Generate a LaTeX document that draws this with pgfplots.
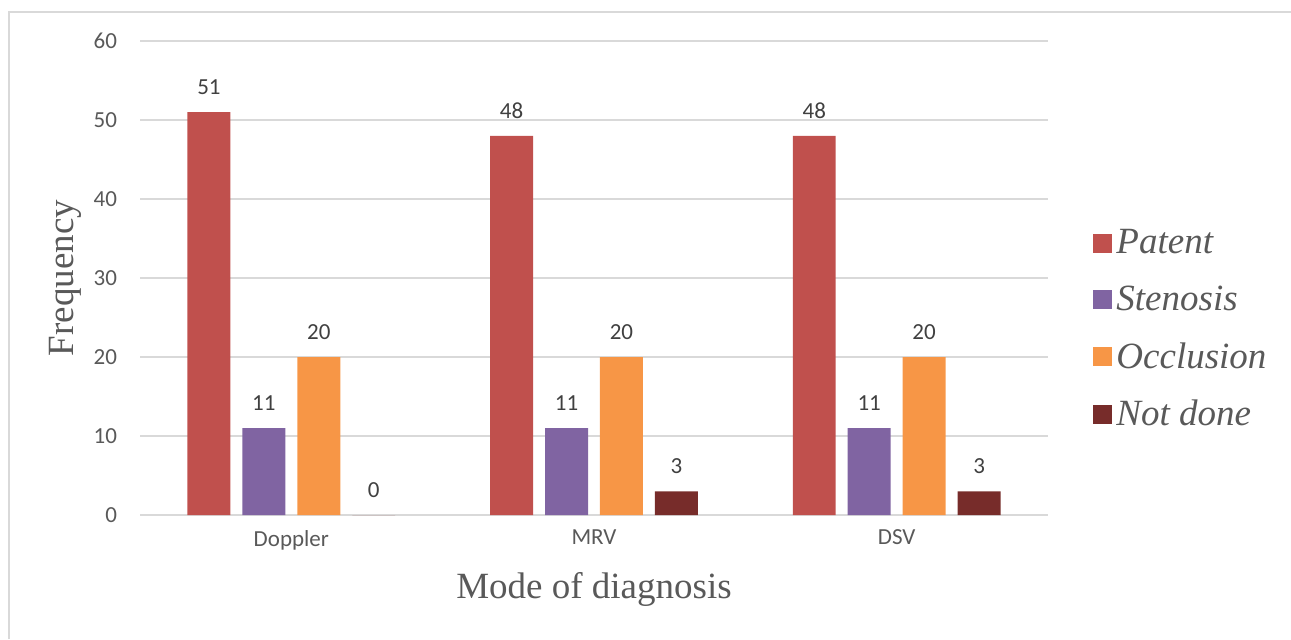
\documentclass[border=0pt]{standalone}
\usepackage{fontspec}
\setmainfont{Liberation Serif}
\newfontfamily\carlito{Carlito}
\usepackage{pgfplots}
\pgfplotsset{compat=1.18}
\definecolor{patent}{HTML}{C0504D}
\definecolor{stenosis}{HTML}{8064A2}
\definecolor{occlusion}{HTML}{F79646}
\definecolor{notdone}{HTML}{772C2A}
\definecolor{txt}{HTML}{595959}
\definecolor{lbl}{HTML}{404040}
\definecolor{gridc}{HTML}{D9D9D9}

\begin{document}
\begin{tikzpicture}
\path[use as bounding box] (0,0) rectangle (645.5pt,319.5pt);
% light frame around the chart area
\draw[gridc, line width=1pt] (4.25pt,0) -- (4.25pt,313.5pt) -- (645.5pt,313.5pt);
\begin{axis}[
  at={(70pt,62pt)}, anchor=south west,
  scale only axis, width=454pt, height=237pt,
  xmin=-0.5, xmax=2.5, ymin=0, ymax=60,
  xtick={0,1,2}, xticklabels={Doppler,MRV,DSV},
  ytick={0,10,...,60},
  /pgf/number format/assume math mode=true,
  ymajorgrids, grid style={gridc, line width=1pt},
  axis line style={draw=none},
  major tick style={draw=none},
  ticklabel style={font=\carlito\fontsize{11.5}{13}\selectfont, text=txt},
  yticklabel style={xshift=-8pt},
  xticklabel style={yshift=-4pt},
  xlabel={Mode of diagnosis},
  ylabel={Frequency},
  label style={font=\fontsize{18.5}{20}\selectfont, text=txt},
  xlabel style={at={(axis description cs:0.5,-0.158)}, anchor=center},
  ylabel style={at={(axis description cs:-0.0826,0.5)}, anchor=center, rotate=0},
  bar width=0.142,
  nodes near coords,
  every node near coord/.append style={font=\carlito\fontsize{11.5}{13}\selectfont, text=lbl, anchor=center, yshift=12.5pt},
  legend style={at={(1.043,0.392)}, anchor=west, draw=none, fill=none,
    font=\itshape\fontsize{18.5}{20}\selectfont, text=txt, row sep=10.5pt},
  legend cell align=left,
  legend image code/.code={\fill[#1, draw=none] (0pt,-4.75pt) rectangle (9.5pt,4.75pt);},
]
% each group: Doppler at 0, MRV at 1, DSV at 2; bars offset within the group
\addplot[ybar, bar shift=0, fill=patent, draw=none] coordinates {(-0.2723,51) (0.7277,48) (1.7277,48)};
\addplot[ybar, bar shift=0, fill=stenosis, draw=none] coordinates {(-0.0908,11) (0.9092,11) (1.9092,11)};
\addplot[ybar, bar shift=0, fill=occlusion, draw=none] coordinates {(0.0908,20) (1.0908,20) (2.0908,20)};
\addplot[ybar, bar shift=0, fill=notdone, draw=none] coordinates {(0.2723,0) (1.2723,3) (2.2723,3)};
\legend{Patent, Stenosis, Occlusion, Not done}
\end{axis}
\end{tikzpicture}
\end{document}
